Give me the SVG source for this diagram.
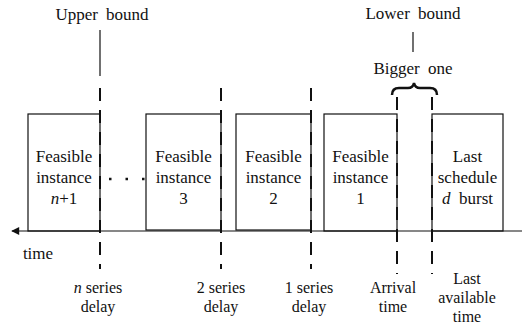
<svg xmlns="http://www.w3.org/2000/svg" width="522" height="336" viewBox="0 0 522 336">
<defs>
<style>
.box{fill:#fff;stroke:#111;stroke-width:1.2}
.dash{stroke:#111;stroke-width:2;stroke-dasharray:13 9;fill:none}
.solid{stroke:#111;stroke-width:1.2;fill:none}
.lb{font-size:16px}
</style>
<marker id="arr" viewBox="0 0 10 10" refX="9" refY="5" markerWidth="9" markerHeight="8" markerUnits="userSpaceOnUse" orient="auto">
<path d="M0,0 L10,5 L0,10 z" fill="#111"/>
</marker>
</defs>
<rect width="522" height="336" fill="#fff"/>
<g font-family="Liberation Serif, Times New Roman, DejaVu Serif, serif" font-size="17" fill="#111" text-anchor="middle">
<g id="box-n1"><rect class="box" x="28" y="114" width="72" height="117"/>
<text x="64" y="162">Feasible</text><text x="64" y="183">instance</text><text x="64" y="204"><tspan font-style="italic">n</tspan>+1</text></g>
<g id="box-3"><rect class="box" x="146" y="114" width="75" height="116"/>
<text x="183.5" y="162">Feasible</text><text x="183.5" y="183">instance</text><text x="183.5" y="204">3</text></g>
<g id="box-2"><rect class="box" x="236" y="114" width="75" height="116"/>
<text x="273.5" y="162">Feasible</text><text x="273.5" y="183">instance</text><text x="273.5" y="204">2</text></g>
<g id="box-1"><rect class="box" x="324" y="114" width="73" height="117"/>
<text x="360.5" y="162">Feasible</text><text x="360.5" y="183">instance</text><text x="360.5" y="204">1</text></g>
<g id="box-last"><rect class="box" x="432" y="114" width="71" height="117"/>
<text x="467.5" y="162">Last</text><text x="467.5" y="183">schedule</text><text x="467.5" y="204" xml:space="preserve"><tspan font-style="italic">d</tspan>  burst</text></g>
<g id="labels">
<text x="102" y="20" word-spacing="4">Upper bound</text>
<text x="413" y="19" word-spacing="4">Lower bound</text>
<text x="413" y="74" word-spacing="4">Bigger one</text>
<text x="38" y="259">time</text>
<g class="lb">
<text x="98" y="293"><tspan font-style="italic">n</tspan> series</text><text x="98" y="312">delay</text>
<text x="221" y="293">2 series</text><text x="221" y="312">delay</text>
<text x="309" y="293">1 series</text><text x="309" y="312">delay</text>
<text x="393" y="293">Arrival</text><text x="393" y="312">time</text>
<text x="467" y="284">Last</text><text x="467" y="303">available</text><text x="467" y="322">time</text>
</g>
</g>
</g>
<g id="connectors">
<line class="solid" x1="522" y1="231" x2="12" y2="231" marker-end="url(#arr)"/>
<line class="solid" x1="100" y1="30" x2="100" y2="76"/>
<line class="solid" x1="413" y1="32" x2="413" y2="52"/>
<line class="dash" x1="100" y1="88" x2="100" y2="269"/>
<line class="dash" x1="221" y1="88" x2="221" y2="269"/>
<line class="dash" x1="311" y1="88" x2="311" y2="269"/>
<line class="dash" x1="397" y1="97" x2="397" y2="274"/>
<line class="dash" x1="432" y1="97" x2="432" y2="274"/>
<path d="M392,95 Q392,88 399,88 L408,88 Q413,88 414,83 Q415,88 420,88 L430,88 Q437,88 437,95" fill="none" stroke="#111" stroke-width="2.5"/>
<line x1="109" y1="179" x2="145" y2="179" stroke="#111" stroke-width="2.5" stroke-dasharray="2.5 14"/>
</g>
</svg>
